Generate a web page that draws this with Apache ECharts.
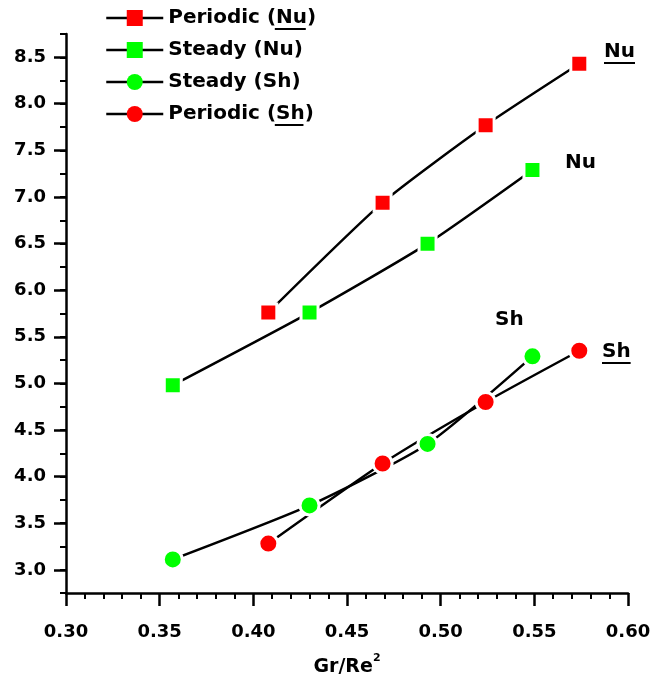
<!DOCTYPE html>
<html>
<head>
<meta charset="utf-8">
<script src="https://cdn.jsdelivr.net/npm/echarts@6/dist/echarts.min.js"></script>
<style>
html,body{margin:0;padding:0;background:#fff;}
#chart{width:650px;height:678px;}
</style>
</head>
<body>
<div id="chart"></div>
<script>
// ---- data ----
const xPeriodic = [0.408, 0.469, 0.524, 0.574];
const xSteady = [0.357, 0.430, 0.493, 0.549];
const periodicNu = [5.76, 6.94, 7.77, 8.43];
const steadyNu = [4.98, 5.76, 6.50, 7.29];
const steadySh = [3.11, 3.69, 4.35, 5.29];
const periodicSh = [3.28, 4.14, 4.80, 5.35];
const seriesNames = ['Periodic (Nu)', 'Steady (Nu)', 'Steady (Sh)', 'Periodic (Sh)'];
const xTicks = [0.30, 0.35, 0.40, 0.45, 0.50, 0.55, 0.60];
const yTicks = [3.0, 3.5, 4.0, 4.5, 5.0, 5.5, 6.0, 6.5, 7.0, 7.5, 8.0, 8.5];

const FONT = '"DejaVu Sans", "Liberation Sans", Arial, sans-serif';
const RED = '#ff0000', GREEN = '#00ff00';

function pairs(xs, ys) { return xs.map((x, i) => [x, ys[i]]); }

const ctx = document.createElement('canvas').getContext('2d');
function tw(text, size) { ctx.font = 'bold ' + size + 'px ' + FONT; return ctx.measureText(text).width; }

const chart = echarts.init(document.getElementById('chart'), null, {renderer: 'canvas'});

function lineSeries(name, data, color, symbol, size) {
  return {
    name: name, type: 'line', data: data, xAxisIndex: 0, yAxisIndex: 0,
    symbol: symbol, symbolSize: size, smooth: 0.2,
    lineStyle: {color: '#000', width: 2.5},
    itemStyle: {color: color, borderColor: '#fff', borderWidth: 3},
    emphasis: {disabled: true}, animation: false, z: 3
  };
}

// legend geometry
const legLeft = 105, legTop = 8, legItemW = 57, legFont = 20, legRow = 32;
const textStart = legLeft + legItemW + 5;

const graphics = [];
function underline(x1, x2, y) {
  graphics.push({type: 'line', shape: {x1: x1, y1: y, x2: x2, y2: y}, style: {stroke: '#000', lineWidth: 2}, z: 10});
}
// legend underlines
{
  const s0 = textStart + tw('Periodic (', legFont);
  underline(s0, s0 + tw('Nu', legFont), legTop + 0 * legRow + 21);
  const s3 = textStart + tw('Periodic (', legFont);
  underline(s3, s3 + tw('Sh', legFont), legTop + 3 * legRow + 21);
}
// annotations
function annot(text, x, y, ul) {
  graphics.push({type: 'text', x: x, y: y, style: {text: text, font: 'bold 20px ' + FONT, fill: '#000', textVerticalAlign: 'middle'}, z: 10});
  if (ul) underline(x, x + tw(text, 20), y + 11);
}
annot('Nu', 604, 52, true);
annot('Nu', 565, 163, false);
annot('Sh', 495, 320, false);
annot('Sh', 602, 352, true);

const option = {
  backgroundColor: '#fff',
  animation: false,
  legend: {
    orient: 'vertical', left: legLeft, top: legTop, padding: 0,
    itemWidth: legItemW, itemHeight: 20, itemGap: legRow - 20,
    data: seriesNames,
    itemStyle: {borderWidth: 0},
    lineStyle: {color: '#000', width: 2.5},
    textStyle: {fontFamily: FONT, fontWeight: 'bold', fontSize: legFont, color: '#000', lineHeight: 20},
    selectedMode: false
  },
  grid: [
    {left: 66, right: 22, top: 34, bottom: 85, containLabel: false, outerBoundsMode: 'none'},
    {left: 66, right: 22, top: 57, bottom: 108, containLabel: false, outerBoundsMode: 'none'}
  ],
  xAxis: [
    {
      gridIndex: 0, type: 'value', min: 0.30, max: 0.60, interval: 0.05,
      axisLine: {lineStyle: {color: '#000', width: 2.5}},
      axisTick: {length: 13, lineStyle: {color: '#000', width: 2.5}},
      minorTick: {show: true, splitNumber: 5, length: 6, lineStyle: {color: '#000', width: 2}},
      splitLine: {show: false},
      axisLabel: {formatter: v => v.toFixed(2), fontFamily: FONT, fontWeight: 'bold', fontSize: 18, color: '#000', margin: 30},
      name: '{a|Gr/Re}{s|2}', nameLocation: 'middle', nameGap: 60,
      nameTextStyle: {rich: {
        a: {fontFamily: FONT, fontWeight: 'bold', fontSize: 19, color: '#000'},
        s: {fontFamily: FONT, fontWeight: 'bold', fontSize: 11, color: '#000', padding: [0, 0, 18, 0]}
      }}
    },
    {gridIndex: 1, type: 'value', min: 0.30, max: 0.60, show: false}
  ],
  yAxis: [
    {
      gridIndex: 0, type: 'value', min: 2.75, max: 8.75, interval: 0.25,
      axisLine: {show: true, lineStyle: {color: '#000', width: 2.5}},
      axisTick: {show: true, length: 6, lineStyle: {color: '#000', width: 2}},
      axisLabel: {show: false},
      splitLine: {show: false}
    },
    {
      gridIndex: 1, type: 'value', min: yTicks[0], max: yTicks[yTicks.length - 1], interval: 0.5,
      axisLine: {show: false},
      axisTick: {show: true, length: 12, lineStyle: {color: '#000', width: 2.5}},
      axisLabel: {formatter: v => v.toFixed(1), fontFamily: FONT, fontWeight: 'bold', fontSize: 18, color: '#000', margin: 20},
      splitLine: {show: false}
    }
  ],
  series: [
    lineSeries(seriesNames[0], pairs(xPeriodic, periodicNu), RED, 'rect', 17),
    lineSeries(seriesNames[1], pairs(xSteady, steadyNu), GREEN, 'rect', 17),
    lineSeries(seriesNames[2], pairs(xSteady, steadySh), GREEN, 'circle', 19),
    lineSeries(seriesNames[3], pairs(xPeriodic, periodicSh), RED, 'circle', 19)
  ],
  graphic: graphics
};
chart.setOption(option);
</script>
</body>
</html>
